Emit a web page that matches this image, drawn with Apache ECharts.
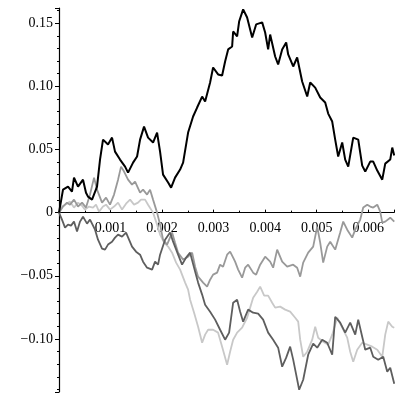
<!DOCTYPE html>
<html>
<head>
<meta charset="utf-8">
<script src="https://cdn.jsdelivr.net/npm/echarts@6/dist/echarts.min.js"></script>
<style>
  html, body { margin: 0; padding: 0; background: #fff; }
  #chart { width: 400px; height: 400px; }
</style>
</head>
<body>
<div id="chart"></div>
<script>
// four sample paths, time in ms (converted to s below), value
const blackPath = [[0,0],[0.078,0.0182],[0.175,0.0206],[0.252,0.0166],[0.291,0.0277],[0.369,0.0206],[0.466,0.0261],[0.524,0.0158],[0.563,0.0127],[0.641,0.0103],[0.738,0.0206],[0.796,0.0420],[0.854,0.0578],[0.951,0.0539],[1.029,0.0594],[1.087,0.0483],[1.184,0.0420],[1.282,0.0364],[1.340,0.0317],[1.437,0.0396],[1.515,0.0444],[1.573,0.0578],[1.650,0.0681],[1.728,0.0594],[1.825,0.0555],[1.903,0.0634],[1.961,0.0483],[2.019,0.0301],[2.117,0.0238],[2.175,0.0198],[2.252,0.0277],[2.350,0.0341],[2.408,0.0396],[2.505,0.0634],[2.602,0.0761],[2.680,0.0832],[2.777,0.0919],[2.835,0.0880],[2.932,0.1030],[2.990,0.1149],[3.087,0.1094],[3.165,0.1086],[3.223,0.1197],[3.282,0.1292],[3.359,0.1315],[3.379,0.1434],[3.456,0.1395],[3.495,0.1513],[3.573,0.1609],[3.650,0.1545],[3.748,0.1387],[3.825,0.1490],[3.942,0.1506],[4.000,0.1426],[4.058,0.1292],[4.097,0.1410],[4.194,0.1236],[4.252,0.1173],[4.330,0.1292],[4.408,0.1347],[4.447,0.1252],[4.544,0.1157],[4.621,0.1228],[4.718,0.1038],[4.816,0.0919],[4.874,0.1030],[4.971,0.0990],[5.068,0.0911],[5.165,0.0872],[5.223,0.0784],[5.301,0.0721],[5.359,0.0578],[5.417,0.0444],[5.495,0.0555],[5.553,0.0420],[5.612,0.0364],[5.709,0.0594],[5.806,0.0578],[5.883,0.0372],[5.942,0.0325],[6.039,0.0404],[6.097,0.0404],[6.175,0.0333],[6.272,0.0261],[6.330,0.0388],[6.427,0.0420],[6.466,0.0515],[6.505,0.0452]];

const midPath = [[0,0],[0.078,0.0048],[0.155,0.0079],[0.214,0.0063],[0.291,0.0103],[0.369,0.0048],[0.447,0.0079],[0.524,0.0040],[0.602,0.0143],[0.680,0.0277],[0.738,0.0182],[0.835,0.0079],[0.913,0.0119],[0.990,0.0063],[1.068,0.0143],[1.146,0.0261],[1.204,0.0364],[1.262,0.0325],[1.340,0.0261],[1.417,0.0222],[1.476,0.0246],[1.573,0.0158],[1.631,0.0182],[1.709,0.0143],[1.767,0.0182],[1.825,0.0103],[1.903,0],[1.961,-0.0095],[2.019,-0.0214],[2.097,-0.0253],[2.194,-0.0158],[2.252,-0.0238],[2.311,-0.0317],[2.408,-0.0372],[2.505,-0.0349],[2.583,-0.0317],[2.641,-0.0428],[2.699,-0.0507],[2.796,-0.0554],[2.874,-0.0586],[2.932,-0.0531],[2.990,-0.0491],[3.068,-0.0475],[3.126,-0.0412],[3.184,-0.0428],[3.262,-0.0333],[3.320,-0.0309],[3.379,-0.0356],[3.417,-0.0388],[3.476,-0.0451],[3.553,-0.0515],[3.612,-0.0436],[3.670,-0.0412],[3.767,-0.0475],[3.825,-0.0491],[3.903,-0.0412],[4.000,-0.0349],[4.097,-0.0388],[4.155,-0.0436],[4.233,-0.0293],[4.330,-0.0388],[4.427,-0.0428],[4.544,-0.0412],[4.621,-0.0436],[4.680,-0.0507],[4.738,-0.0396],[4.835,-0.0317],[4.932,-0.0269],[5.010,-0.0111],[5.068,-0.0238],[5.126,-0.0396],[5.204,-0.0269],[5.262,-0.0230],[5.359,-0.0293],[5.456,-0.0158],[5.515,-0.0071],[5.592,-0.0135],[5.689,-0.0198],[5.748,-0.0135],[5.845,-0.0055],[5.903,0.0040],[5.981,0.0063],[6.039,0.0048],[6.097,0.0040],[6.175,0.0063],[6.233,0.0008],[6.272,-0.0079],[6.330,-0.0071],[6.427,-0.0040],[6.505,-0.0071]];

const darkPath = [[0,0],[0.058,-0.0055],[0.117,-0.0119],[0.175,-0.0095],[0.233,-0.0103],[0.291,-0.0071],[0.350,-0.0150],[0.408,-0.0071],[0.466,-0.0032],[0.544,-0.0087],[0.602,-0.0055],[0.699,-0.0135],[0.757,-0.0214],[0.835,-0.0285],[0.893,-0.0293],[0.951,-0.0253],[1.029,-0.0230],[1.087,-0.0198],[1.146,-0.0174],[1.223,-0.0190],[1.301,-0.0158],[1.359,-0.0214],[1.417,-0.0269],[1.495,-0.0309],[1.573,-0.0333],[1.631,-0.0388],[1.709,-0.0436],[1.806,-0.0451],[1.864,-0.0388],[1.922,-0.0412],[1.961,-0.0333],[2.058,-0.0214],[2.155,-0.0158],[2.214,-0.0230],[2.311,-0.0333],[2.388,-0.0412],[2.466,-0.0356],[2.544,-0.0317],[2.641,-0.0467],[2.699,-0.0554],[2.777,-0.0649],[2.835,-0.0729],[2.932,-0.0784],[3.029,-0.0847],[3.126,-0.0927],[3.223,-0.1006],[3.301,-0.0950],[3.379,-0.0713],[3.456,-0.0689],[3.515,-0.0784],[3.573,-0.0863],[3.670,-0.0768],[3.767,-0.0792],[3.864,-0.0800],[3.961,-0.0847],[4.058,-0.0950],[4.155,-0.1006],[4.252,-0.1069],[4.330,-0.1220],[4.408,-0.1148],[4.485,-0.1061],[4.544,-0.1164],[4.602,-0.1283],[4.660,-0.1402],[4.738,-0.1323],[4.835,-0.1125],[4.932,-0.1037],[5.010,-0.1069],[5.107,-0.1006],[5.204,-0.1030],[5.301,-0.1125],[5.359,-0.0824],[5.456,-0.0871],[5.553,-0.0950],[5.650,-0.0871],[5.748,-0.0966],[5.806,-0.0847],[5.883,-0.0982],[5.942,-0.1085],[6.039,-0.1069],[6.097,-0.1141],[6.194,-0.1164],[6.291,-0.1141],[6.369,-0.1259],[6.427,-0.1228],[6.505,-0.1354]];

const lightPath = [[0,0],[0.058,0.0048],[0.117,0.0063],[0.214,0.0087],[0.291,0.0040],[0.369,0.0079],[0.447,0.0055],[0.505,0.0024],[0.583,0.0048],[0.660,0.0040],[0.718,0.0063],[0.777,0.0008],[0.854,0.0048],[0.913,0.0063],[0.990,0.0024],[1.068,0.0048],[1.146,0.0079],[1.223,0.0024],[1.301,0.0071],[1.379,0.0103],[1.456,0.0063],[1.534,0.0079],[1.592,0.0103],[1.670,0.0103],[1.728,0.0063],[1.825,0],[1.903,-0.0095],[1.961,-0.0174],[2.039,-0.0238],[2.117,-0.0269],[2.194,-0.0317],[2.272,-0.0396],[2.350,-0.0451],[2.447,-0.0554],[2.505,-0.0610],[2.544,-0.0689],[2.621,-0.0792],[2.699,-0.0903],[2.777,-0.1030],[2.835,-0.0966],[2.893,-0.0927],[2.990,-0.0927],[3.087,-0.0950],[3.165,-0.1061],[3.262,-0.1204],[3.320,-0.1101],[3.379,-0.1006],[3.456,-0.0950],[3.553,-0.0911],[3.650,-0.0832],[3.709,-0.0752],[3.767,-0.0673],[3.845,-0.0626],[3.903,-0.0586],[3.981,-0.0657],[4.058,-0.0657],[4.136,-0.0713],[4.194,-0.0752],[4.291,-0.0744],[4.388,-0.0768],[4.485,-0.0784],[4.583,-0.0832],[4.641,-0.0863],[4.680,-0.1006],[4.738,-0.1141],[4.816,-0.1101],[4.913,-0.1006],[4.971,-0.0903],[5.029,-0.0990],[5.126,-0.1022],[5.223,-0.1045],[5.301,-0.0966],[5.398,-0.0832],[5.495,-0.0911],[5.592,-0.0990],[5.650,-0.1101],[5.709,-0.1180],[5.786,-0.1085],[5.883,-0.1030],[5.981,-0.1045],[6.078,-0.1061],[6.175,-0.1085],[6.272,-0.1141],[6.330,-0.0966],[6.388,-0.0863],[6.466,-0.0903],[6.505,-0.0911]];

const xTicks = [0.001, 0.002, 0.003, 0.004, 0.005, 0.006];
const yTicks = [-0.10, -0.05, 0, 0.05, 0.10, 0.15];
const yMin = -0.142;
const yMax = 0.162;

const serif = "Liberation Serif";
const gridTop = 8;
const gridBottom = 8;
const plotH = 400 - gridTop - gridBottom;
// x axis sits on y = 0, move it (with its labels) up from the grid bottom
const xAxisOffset = -plotH * (0 - yMin) / (yMax - yMin);

function toSeconds(path) {
  return path.map((p) => [p[0] / 1000, p[1]]);
}

function fmtY(v) {
  if (Math.abs(v) < 1e-9) return "0";
  return (v < 0 ? "\u2212" : "") + Math.abs(v).toFixed(2);
}

const chart = echarts.init(document.getElementById("chart"));

const lineSeries = [
  { path: lightPath, color: "#c8c8c8", width: 1.8 },
  { path: midPath, color: "#999999", width: 1.8 },
  { path: darkPath, color: "#5e5e5e", width: 1.8 },
  { path: blackPath, color: "#000000", width: 2 },
].map((s) => ({
  type: "line",
  data: toSeconds(s.path),
  showSymbol: false,
  symbol: "none",
  lineStyle: { color: s.color, width: s.width },
  animation: false,
}));

chart.setOption({
  animation: false,
  grid: { left: 59, right: 6, top: gridTop, bottom: gridBottom },
  xAxis: {
    type: "value",
    min: 0,
    max: 0.0065,
    interval: 0.001,
    offset: xAxisOffset,
    axisLine: { onZero: false, lineStyle: { color: "#000", width: 1.2 } },
    axisTick: { inside: true, length: 3, lineStyle: { color: "#000" } },
    minorTick: { show: true, splitNumber: 2, length: 2, lineStyle: { color: "#000" } },
    splitLine: { show: false },
    axisLabel: {
      color: "#000",
      fontFamily: serif,
      fontSize: 14,
      margin: 9,
      showMinLabel: false,
      showMaxLabel: false,
      formatter: (v) => {
        const hit = xTicks.find((t) => Math.abs(t - v) < 1e-9);
        return hit ? hit.toFixed(3) : "";
      },
    },
  },
  yAxis: {
    type: "value",
    min: yMin,
    max: yMax,
    splitNumber: 5,
    axisLine: { show: true, onZero: true, lineStyle: { color: "#000", width: 1.2 } },
    axisTick: { show: true, length: 4, lineStyle: { color: "#000" } },
    minorTick: { show: true, splitNumber: 5, length: 2, lineStyle: { color: "#000" } },
    splitLine: { show: false },
    axisLabel: {
      color: "#000",
      fontFamily: serif,
      fontSize: 14,
      margin: 6,
      showMinLabel: false,
      showMaxLabel: false,
      formatter: (v) => {
        const hit = yTicks.find((t) => Math.abs(t - v) < 1e-9);
        return hit !== undefined ? fmtY(hit) : "";
      },
    },
  },
  series: lineSeries,
});
</script>
</body>
</html>
